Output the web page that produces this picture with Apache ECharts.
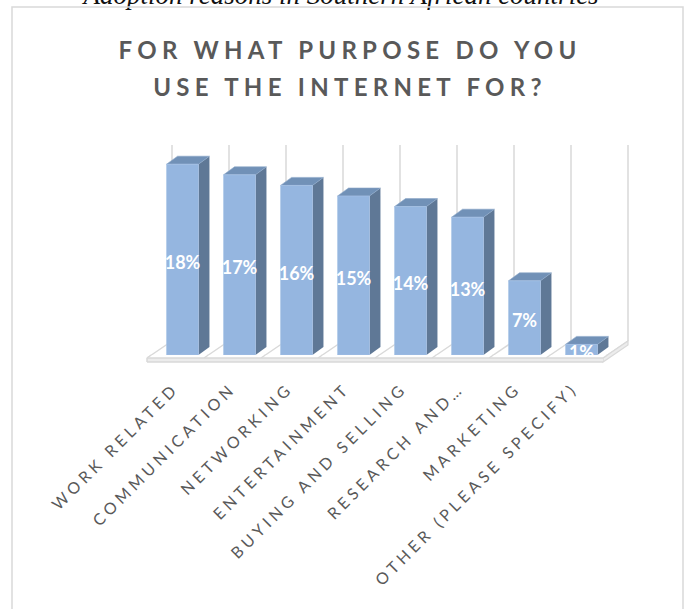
<!DOCTYPE html>
<html>
<head>
<meta charset="utf-8">
<script src="https://cdn.jsdelivr.net/npm/echarts@6/dist/echarts.min.js"></script>
<style>
  html, body { margin: 0; padding: 0; background: #fff; }
  #chart { width: 687px; height: 609px; }
  /* tracked capitals for the title and the category names */
  #chart text[style*="24px"] { letter-spacing: 0.22em; }
  #chart text[style*="16px"] { letter-spacing: 0.26em; }
</style>
</head>
<body>
<div id="chart"></div>
<script>
// Survey answers: share of respondents per purpose (%)
const categories = [
  'WORK RELATED',
  'COMMUNICATION',
  'NETWORKING',
  'ENTERTAINMENT',
  'BUYING AND SELLING',
  'RESEARCH AND\u2026',
  'MARKETING',
  'OTHER (PLEASE SPECIFY)'
];
const shares = [18, 17, 16, 15, 14, 13, 7, 1];
const titleLines = ['FOR WHAT PURPOSE DO YOU', 'USE THE INTERNET FOR?'];
const caption = 'Adoption reasons in Southern African countries';
const valueMax = 20;

// Pseudo-3D geometry (pixels)
const FLOOR_DEPTH = [25, -17];   // front edge of the floor to the back wall
const FLOOR_SLAB = 4;            // thickness of the floor plate
const BAR_SET_BACK = [7, -3];    // bar front faces sit slightly behind the floor edge
const BAR_DEPTH = [11, -8];      // depth of each column
const BAR_RATIO = 0.56;          // column width as part of a category band

const LINE = '#d9d9d9';
const FRONT = '#95b6e0';
const SIDE = '#5f7896';
const TOP = '#7191b7';

const chart = echarts.init(document.getElementById('chart'), null, { renderer: 'svg' });

function band(api) {
  return api.size([1, 0])[0];
}

// floor surface, depth lines and the back-wall grid lines
function renderFloor(params, api) {
  const i = api.value(0);
  const c = api.coord([i, 0]);
  const w = band(api);
  const xl = c[0] - w / 2, xr = c[0] + w / 2, y = c[1];
  const [dx, dy] = FLOOR_DEPTH;
  const yTop = api.coord([i, valueMax])[1] - 1;
  const lineStyle = { stroke: LINE, lineWidth: 1.5, fill: 'none' };
  const children = [
    { type: 'polygon', shape: { points: [[xl, y], [xr, y], [xr + dx, y + dy], [xl + dx, y + dy]] },
      style: { fill: '#fff' } },
    { type: 'line', shape: { x1: xl, y1: y, x2: xl + dx, y2: y + dy }, style: lineStyle },
    { type: 'line', shape: { x1: xl + dx, y1: y + dy, x2: xl + dx, y2: yTop }, style: lineStyle }
  ];
  if (i === categories.length - 1) {
    children.push(
      { type: 'line', shape: { x1: xr, y1: y, x2: xr + dx, y2: y + dy }, style: lineStyle },
      { type: 'line', shape: { x1: xr + dx, y1: y + dy, x2: xr + dx, y2: yTop }, style: lineStyle },
      { type: 'polygon',
        shape: { points: [[xr, y], [xr + dx, y + dy], [xr + dx, y + dy + FLOOR_SLAB], [xr, y + FLOOR_SLAB]] },
        style: { fill: '#ececec', stroke: LINE, lineWidth: 1.2 } }
    );
  }
  return { type: 'group', children };
}

// the columns with their value labels
function renderBar(params, api) {
  const i = api.value(0), v = api.value(1);
  const base = api.coord([i, 0]);
  const peak = api.coord([i, v]);
  const w = band(api) * BAR_RATIO;
  const xl = base[0] + BAR_SET_BACK[0] - w / 2, xr = xl + w;
  const yb = base[1] + BAR_SET_BACK[1], yt = peak[1] + BAR_SET_BACK[1];
  const [dx, dy] = BAR_DEPTH;
  return {
    type: 'group',
    children: [
      { type: 'polygon', shape: { points: [[xr, yt], [xr + dx, yt + dy], [xr + dx, yb + dy], [xr, yb]] },
        style: { fill: SIDE } },
      { type: 'polygon', shape: { points: [[xl, yt], [xl + dx, yt + dy], [xr + dx, yt + dy], [xr, yt]] },
        style: { fill: TOP, stroke: '#8aa6c8', lineWidth: 0.6 } },
      { type: 'rect', shape: { x: xl, y: yt, width: w, height: yb - yt },
        style: { fill: FRONT, stroke: '#a9c5e8', lineWidth: 0.6 } },
      { type: 'text', x: (xl + xr) / 2, y: (yt + yb) / 2 + 2.5,
        style: { text: v + '%', fill: '#fff', fontFamily: 'Lato', fontWeight: 'bold', fontSize: 18,
                 align: 'center', verticalAlign: 'middle', textAlign: 'center', textVerticalAlign: 'middle' } }
    ]
  };
}

// the strip of floor in front of the columns plus the front edge of the plate
function renderFloorFront(params, api) {
  const i = api.value(0);
  const c = api.coord([i, 0]);
  const w = band(api);
  const xl = c[0] - w / 2, xr = c[0] + w / 2, y = c[1];
  const f = BAR_SET_BACK[1] / FLOOR_DEPTH[1];
  const sx = FLOOR_DEPTH[0] * f, sy = BAR_SET_BACK[1];
  const lineStyle = { stroke: LINE, lineWidth: 1.5, fill: 'none' };
  const children = [
    { type: 'polygon', shape: { points: [[xl, y], [xr, y], [xr + sx, y + sy], [xl + sx, y + sy]] },
      style: { fill: '#fff' } },
    { type: 'line', shape: { x1: xl, y1: y, x2: xl + sx, y2: y + sy }, style: lineStyle },
    { type: 'rect', shape: { x: xl, y: y, width: w, height: FLOOR_SLAB },
      style: { fill: '#ececec', stroke: 'none' } },
    { type: 'line', shape: { x1: xl, y1: y, x2: xr, y2: y }, style: lineStyle },
    { type: 'line', shape: { x1: xl, y1: y + FLOOR_SLAB, x2: xr, y2: y + FLOOR_SLAB }, style: lineStyle }
  ];
  if (i === 0) {
    children.push({ type: 'line', shape: { x1: xl, y1: y, x2: xl, y2: y + FLOOR_SLAB }, style: lineStyle });
  }
  if (i === categories.length - 1) {
    children.push({ type: 'line', shape: { x1: xr, y1: y, x2: xr + sx, y2: y + sy }, style: lineStyle });
  }
  return { type: 'group', children };
}

const indexData = categories.map((c, i) => [i]);
const barData = shares.map((v, i) => [i, v]);

chart.setOption({
  animation: false,
  backgroundColor: '#fff',
  title: {
    text: titleLines.join('\n'),
    left: 345,
    top: 26,
    textAlign: 'center',
    textStyle: { fontFamily: 'Lato', fontWeight: 'bold', fontSize: 24, color: '#595959', lineHeight: 37 }
  },
  graphic: [
    { type: 'text', x: 341, y: 8, silent: true,
      style: { text: caption, font: 'italic 27px "Liberation Serif"', fill: '#111',
               textAlign: 'center', textVerticalAlign: 'bottom', align: 'center', verticalAlign: 'bottom' } },
    { type: 'rect', silent: true, shape: { x: 12, y: 7, width: 671, height: 640 },
      style: { fill: 'none', stroke: LINE, lineWidth: 1.5 } }
  ],
  grid: { left: 147, width: 456, top: 146, bottom: 251, containLabel: false },
  xAxis: {
    type: 'category',
    data: categories,
    axisLine: { show: false },
    axisTick: { show: false },
    splitLine: { show: false },
    axisLabel: {
      interval: 0,
      rotate: 45,
      margin: 27,
      fontFamily: 'Lato',
      fontSize: 16,
      color: '#595959'
    }
  },
  yAxis: { type: 'value', min: 0, max: valueMax, show: false },
  series: [
    { type: 'custom', z: 1, renderItem: renderFloor, data: indexData, encode: { x: 0 }, silent: true },
    { type: 'custom', z: 2, renderItem: renderBar, data: barData, encode: { x: 0, y: 1 } },
    { type: 'custom', z: 3, renderItem: renderFloorFront, data: indexData, encode: { x: 0 }, silent: true }
  ]
});
</script>
</body>
</html>
